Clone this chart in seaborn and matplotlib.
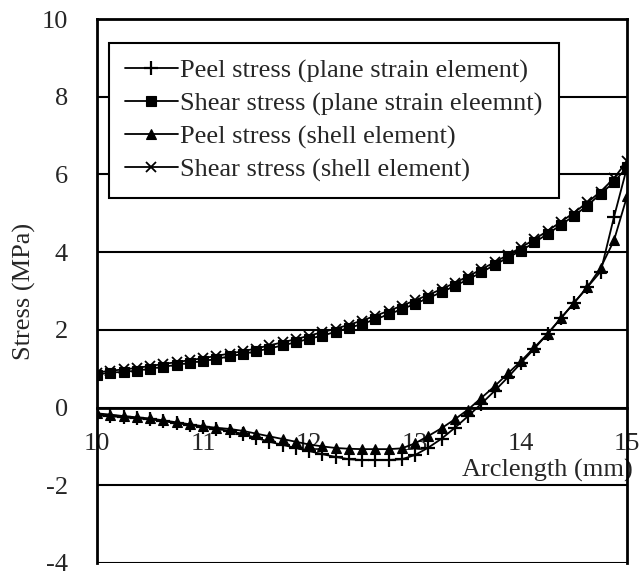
import matplotlib
matplotlib.use('Agg')
import pandas as pd
import seaborn as sns
import matplotlib.pyplot as plt

# Arclength positions (mm)
arclength = [10.0, 10.125, 10.25, 10.375, 10.5, 10.625, 10.75, 10.875,
             11.0, 11.125, 11.25, 11.375, 11.5, 11.625, 11.75, 11.875,
             12.0, 12.125, 12.25, 12.375, 12.5, 12.625, 12.75, 12.875,
             13.0, 13.125, 13.25, 13.375, 13.5, 13.625, 13.75, 13.875,
             14.0, 14.125, 14.25, 14.375, 14.5, 14.625, 14.75, 14.875, 15.0]

# Peel stress, plane strain element (MPa)
peel_plane = [-0.2, -0.22, -0.25, -0.28, -0.3, -0.35, -0.4, -0.45,
              -0.5, -0.55, -0.6, -0.68, -0.78, -0.88, -0.96, -1.04,
              -1.12, -1.2, -1.27, -1.33, -1.35, -1.35, -1.35, -1.33,
              -1.22, -1.03, -0.8, -0.52, -0.22, 0.1, 0.43, 0.78,
              1.15, 1.52, 1.9, 2.3, 2.7, 3.1, 3.5, 4.9, 6.2]

# Shear stress, plane strain element (MPa)
shear_plane = [0.85, 0.9, 0.92, 0.95, 1.0, 1.05, 1.1, 1.15,
               1.2, 1.25, 1.32, 1.38, 1.45, 1.52, 1.6, 1.68,
               1.77, 1.85, 1.95, 2.05, 2.15, 2.27, 2.4, 2.53,
               2.67, 2.82, 2.97, 3.13, 3.3, 3.48, 3.67, 3.86,
               4.04, 4.25, 4.47, 4.7, 4.94, 5.2, 5.5, 5.8, 6.2]

# Peel stress, shell element (MPa)
peel_shell = [-0.15, -0.18, -0.22, -0.25, -0.28, -0.33, -0.38, -0.43,
              -0.48, -0.52, -0.55, -0.6, -0.67, -0.74, -0.81, -0.88,
              -0.95, -1.0, -1.04, -1.06, -1.07, -1.07, -1.07, -1.05,
              -0.92, -0.73, -0.53, -0.3, -0.05, 0.25, 0.55, 0.88,
              1.2, 1.55, 1.9, 2.3, 2.7, 3.1, 3.6, 4.3, 5.45]

# Shear stress, shell element (MPa)
shear_shell = [0.9, 0.95, 0.98, 1.02, 1.07, 1.12, 1.17, 1.22,
               1.27, 1.33, 1.39, 1.45, 1.52, 1.6, 1.68, 1.76,
               1.85, 1.94, 2.03, 2.13, 2.24, 2.36, 2.49, 2.62,
               2.76, 2.9, 3.05, 3.21, 3.38, 3.56, 3.74, 3.93,
               4.12, 4.33, 4.55, 4.78, 5.02, 5.28, 5.56, 5.9, 6.35]

labels = ['Peel stress (plane strain element)',
          'Shear stress (plane strain eleemnt)',
          'Peel stress (shell element)',
          'Shear stress (shell element)']

df = pd.DataFrame({'x': arclength, 'p1': peel_plane, 's1': shear_plane,
                   'p2': peel_shell, 's2': shear_shell})

sns.set_style('white')
plt.rcParams['font.family'] = ['Liberation Serif', 'DejaVu Serif']
plt.rcParams['font.size'] = 19

fig = plt.figure(figsize=(6.4, 5.76), dpi=100)
ax = fig.add_axes([0.1516, 0.0226, 0.8284, 0.9444])

common = dict(color='k', lw=1.3, mec='k', mfc='k', ax=ax)
sns.lineplot(data=df, x='x', y='p1', marker='+', markersize=10, mew=1.6,
             label=labels[0], **common)
sns.lineplot(data=df, x='x', y='s1', marker='s', markersize=6.5, mew=0.8,
             label=labels[1], **common)
sns.lineplot(data=df, x='x', y='p2', marker='^', markersize=7, mew=0.8,
             label=labels[2], **common)
sns.lineplot(data=df, x='x', y='s2', marker='x', markersize=7.5, mew=1.3,
             label=labels[3], **common)

ax.set_xlim(10, 15)
ax.set_ylim(-4, 10)
ax.set_xticks([10, 11, 12, 13, 14, 15])
ax.set_yticks([-4, -2, 0, 2, 4, 6, 8, 10])
ax.set_yticklabels(['-4', '-2', '0', '2', '4', '6', '8', '10'])

# horizontal grid
ax.grid(axis='y', color='k', lw=1.5)
ax.grid(axis='x', visible=False)

for s in ['left', 'right', 'top', 'bottom']:
    ax.spines[s].set_color('k')
    ax.spines[s].set_linewidth(2)
ax.spines['bottom'].set_position(('data', 0))

ax.tick_params(axis='x', direction='in', length=8, width=1.5, pad=18)
ax.tick_params(axis='y', direction='out', length=5, width=1.5, pad=16)

ax.set_xlabel('Arclength (mm)')
ax.xaxis.set_label_coords(1.01, 0.17)
ax.xaxis.label.set_ha('right')
ax.xaxis.label.set_va('center')
ax.set_ylabel('Stress (MPa)')
ax.yaxis.set_label_coords(-0.115, 0.5)

leg = ax.legend(loc='upper left', bbox_to_anchor=(0.023, 0.956),
                borderaxespad=0, frameon=True, fancybox=False,
                handlelength=2.0, labelspacing=0.35, handletextpad=0.1,
                borderpad=0.6, fontsize=19)
leg.get_frame().set_edgecolor('k')
leg.get_frame().set_linewidth(1.5)
leg.get_frame().set_alpha(1)

plt.savefig('out.png', dpi=100)
